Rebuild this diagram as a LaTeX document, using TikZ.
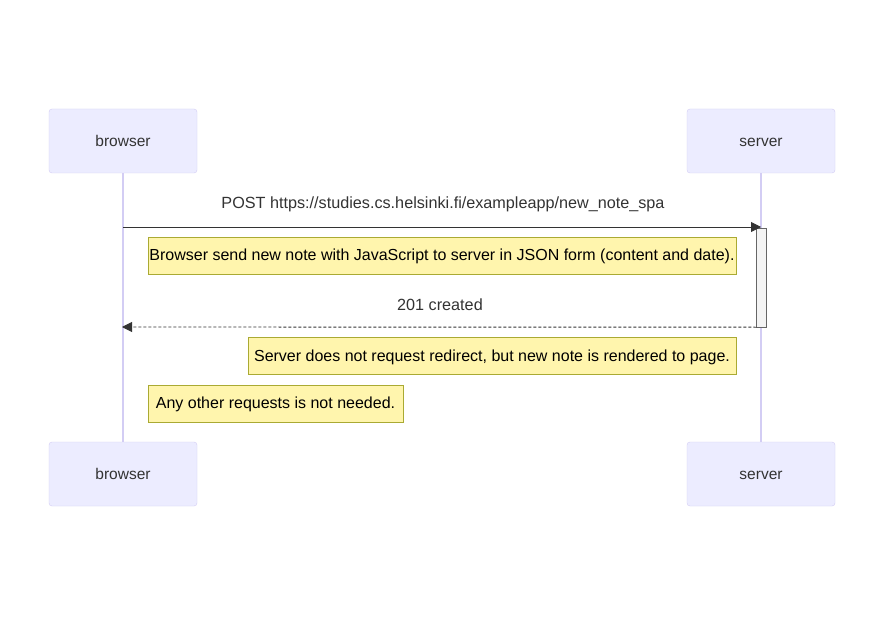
\documentclass[tikz,border=0pt]{standalone}
\usepackage{fontspec}
\setmainfont{Liberation Sans}
\usetikzlibrary{positioning, arrows.meta}
\definecolor{actorfill}{HTML}{ECECFF}
\definecolor{actorline}{HTML}{D3CDF4}
\definecolor{notefill}{HTML}{FFF5AD}
\definecolor{noteline}{HTML}{AAAA33}
\definecolor{textgray}{HTML}{333333}
\definecolor{actfill}{HTML}{F4F4F4}

\begin{document}
\begin{tikzpicture}[x=1pt,y=-1pt]
    \tikzset{actor/.style = {draw=actorline, fill=actorfill, rounded corners=3pt,
        minimum width=148pt, minimum height=64pt, text=textgray,
        text height=1.3em, text depth=0.25em, font=\fontsize{15.5}{17}\selectfont}}
    \tikzset{note/.style = {draw=noteline, fill=notefill, minimum height=37pt,
        inner sep=0pt, text=black, text height=1.3em, text depth=0.25em,
        font=\fontsize{16}{18}\selectfont}}
    \tikzset{msg/.style = {text=textgray, font=\fontsize{16.2}{18}\selectfont}}
    \tikzset{edge/.style = {textgray, line width=0.9pt, -{Triangle[length=10pt,width=10pt]}}}
    \tikzset{lifeline/.style = {actorline, line width=1.1pt}}

    \useasboundingbox[fill=white] (0,0) rectangle (885,617);

    % actors
    \node[actor] (bt) at (123,141) {browser};
    \node[actor] (st) at (761,141) {server};
    \node[actor] (bb) at (123,474) {browser};
    \node[actor] (sb) at (761,474) {server};

    % lifelines
    \draw[lifeline] (bt) -- (bb);
    \draw[lifeline] (st) -- (sb);

    % activation
    \node[draw=black!60, fill=actfill, minimum width=10pt, minimum height=99pt,
        inner sep=0pt] (act) at (761.5,277.5) {};

    % request
    \coordinate (p1) at (123,227);
    \coordinate (p2) at (761,227);
    \draw[edge] (p1) -- (p2);
    \node[msg] (post) at (443,204.5) {POST https://studies.cs.helsinki.fi/exampleapp/new\_note\_spa};

    \node[note, minimum width=588pt] (n1) at (442,255.5)
        {Browser send new note with JavaScript to server in JSON form (content and date).};

    % response
    \coordinate (r1) at (122,327);
    \draw[edge, dash pattern=on 3pt off 2pt] (act.south west) -- (r1);
    \node[msg] (created) at (440,304.5) {201 created};

    \node[note, minimum width=488pt] (n2) at (492,356)
        {Server does not request redirect, but new note is rendered to page.};
    \node[note, minimum width=255pt] (n3) at (275.5,403.5)
        {Any other requests is not needed.};
\end{tikzpicture}
\end{document}
